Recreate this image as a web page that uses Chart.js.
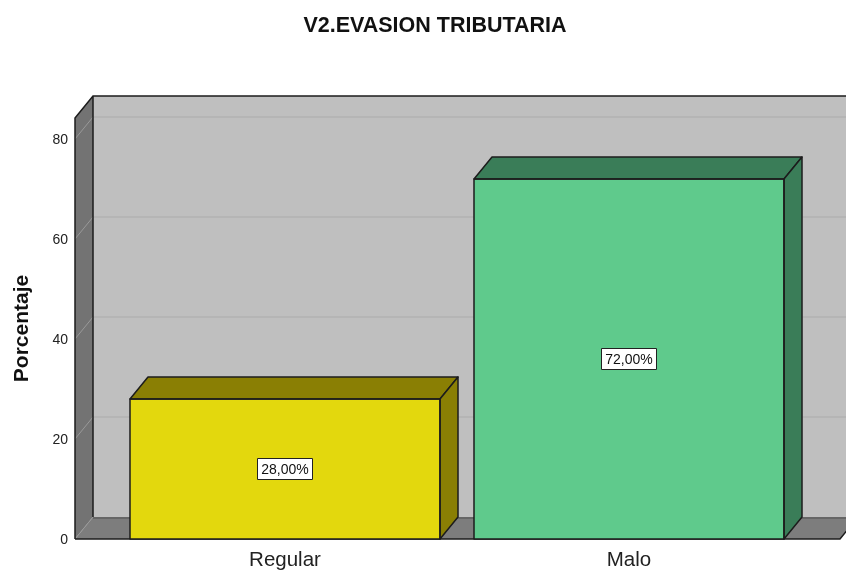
<!DOCTYPE html>
<html><head><meta charset="utf-8">
<style>html,body{margin:0;padding:0;background:#fff}canvas{display:block}</style>
<script src="https://cdn.jsdelivr.net/npm/chart.js@4"></script>
</head><body>
<canvas id="c" width="846" height="570"></canvas>
<script>
const categories = ["Regular", "Malo"];
const values = [28, 72];
const yTicks = [0, 20, 40, 60, 80];
const frontColors = ["#e3d80d", "#5fca8c"];
const darkColors = ["#8a7f04", "#3a7d58"];

const DX = 18, DY = -22, INK = "#1c1c1c";
const FONT = '"Liberation Sans", Arial, sans-serif';

function poly(ctx, pts, fill, stroke, lw) {
  ctx.beginPath();
  pts.forEach((p, i) => i ? ctx.lineTo(p[0], p[1]) : ctx.moveTo(p[0], p[1]));
  ctx.closePath();
  if (fill) { ctx.fillStyle = fill; ctx.fill(); }
  if (stroke) { ctx.strokeStyle = stroke; ctx.lineWidth = lw || 1.5; ctx.lineJoin = "round"; ctx.stroke(); }
}

const box3d = {
  id: "box3d",
  afterLayout(chart) {
    chart.titleBlock.left += 34.5;
    chart.titleBlock.right += 34.5;
    const y = chart.scales.y, draw = y.drawLabels;
    y.drawLabels = function (area) {
      chart.ctx.save();
      chart.ctx.translate(0, 1.5);
      draw.call(this, area);
      chart.ctx.restore();
    };
  },
  beforeDatasetsDraw(chart) {
    const { ctx, scales: { y }, width } = chart;
    const L = 75, R = 840;
    const T = chart.chartArea.top, B = y.getPixelForValue(0);
    ctx.save();
    poly(ctx, [[L + DX, T + DY], [width + 30, T + DY], [width + 30, B + DY], [L + DX, B + DY]], "#bfbfbf");
    yTicks.forEach(v => {
      if (!v) return;
      const py = y.getPixelForValue(v) + DY;
      ctx.strokeStyle = "#b2b2b2"; ctx.lineWidth = 1.5;
      ctx.beginPath(); ctx.moveTo(L + DX, py); ctx.lineTo(width, py); ctx.stroke();
    });
    poly(ctx, [[L, T], [L + DX, T + DY], [L + DX, B + DY], [L, B]], "#737373");
    poly(ctx, [[L, B], [L + DX, B + DY], [R + DX, B + DY], [R, B]], "#7d7d7d");
    ctx.strokeStyle = "#666"; ctx.lineWidth = 2;
    ctx.beginPath(); ctx.moveTo(L + DX, B + DY + 1); ctx.lineTo(width, B + DY + 1); ctx.stroke();
    yTicks.forEach(v => {
      const py = y.getPixelForValue(v);
      ctx.strokeStyle = "#999"; ctx.lineWidth = 1;
      ctx.beginPath(); ctx.moveTo(L, py); ctx.lineTo(L + DX, py + DY); ctx.stroke();
    });
    ctx.strokeStyle = INK; ctx.lineWidth = 1.5;
    ctx.beginPath();
    ctx.moveTo(L, B); ctx.lineTo(L, T); ctx.lineTo(L + DX, T + DY); ctx.lineTo(width, T + DY);
    ctx.moveTo(L + DX, T + DY); ctx.lineTo(L + DX, B + DY);
    ctx.moveTo(L, B); ctx.lineTo(R, B); ctx.lineTo(R + DX, B + DY);
    ctx.stroke();
    ctx.restore();
  },
  afterDatasetsDraw(chart) {
    const { ctx, scales: { y } } = chart;
    const B = y.getPixelForValue(0);
    const bars = chart.getDatasetMeta(0).data;
    ctx.save();
    bars.forEach((b, i) => {
      const l = b.x - b.width / 2, r = b.x + b.width / 2, t = b.y;
      poly(ctx, [[l, t], [l + DX, t + DY], [r + DX, t + DY], [r, t]], darkColors[i], INK);
      poly(ctx, [[r, t], [r + DX, t + DY], [r + DX, B + DY], [r, B]], darkColors[i], INK);
      poly(ctx, [[l, t], [r, t], [r, B], [l, B]], null, INK);
    });
    bars.forEach((b, i) => {
      const cy = y.getPixelForValue(values[i] / 2);
      const text = values[i].toFixed(2).replace(".", ",") + "%";
      ctx.fillStyle = "#fff"; ctx.strokeStyle = "#222"; ctx.lineWidth = 1;
      ctx.fillRect(b.x - 27.5, cy - 10.5, 55, 21);
      ctx.strokeRect(b.x - 27.5, cy - 10.5, 55, 21);
      ctx.fillStyle = "#111"; ctx.font = "14px " + FONT;
      ctx.textAlign = "center"; ctx.textBaseline = "middle";
      ctx.fillText(text, b.x, cy + 1);
    });
    ctx.restore();
  }
};

new Chart(document.getElementById("c"), {
  type: "bar",
  data: {
    labels: categories,
    datasets: [{ data: values, backgroundColor: frontColors, borderWidth: 0,
      barPercentage: 310 / 344, categoryPercentage: 1 }]
  },
  plugins: [box3d],
  options: {
    responsive: false,
    animation: false,
    events: [],
    layout: { padding: { left: 0, right: 45, top: 0, bottom: 0 } },
    plugins: {
      legend: { display: false },
      tooltip: { enabled: false },
      title: {
        display: true, text: "V2.EVASION TRIBUTARIA", color: "#111",
        font: { family: FONT, size: 21.5, weight: "bold", lineHeight: 1.2 },
        padding: { top: 13, bottom: 79.2 }
      }
    },
    scales: {
      x: {
        grid: { display: false, drawTicks: false },
        border: { display: false },
        ticks: { color: "#222", font: { family: FONT, size: 20.5 }, padding: 9, maxRotation: 0 },
        afterFit(s) { s.height = 31; }
      },
      y: {
        min: 0, max: 84.2,
        grid: { display: false, drawTicks: false },
        border: { display: false },
        ticks: { stepSize: 20, includeBounds: false, padding: 45, color: "#222", font: { family: FONT, size: 14 } },
        title: { display: true, text: "Porcentaje", color: "#111",
          font: { family: FONT, size: 21, weight: "bold", lineHeight: 1.2 }, padding: { top: 10, bottom: 0 } },
        afterFit(s) { s.width = 113; s.paddingTop = 0; s.paddingBottom = 0; }
      }
    }
  }
});
</script>
</body></html>
